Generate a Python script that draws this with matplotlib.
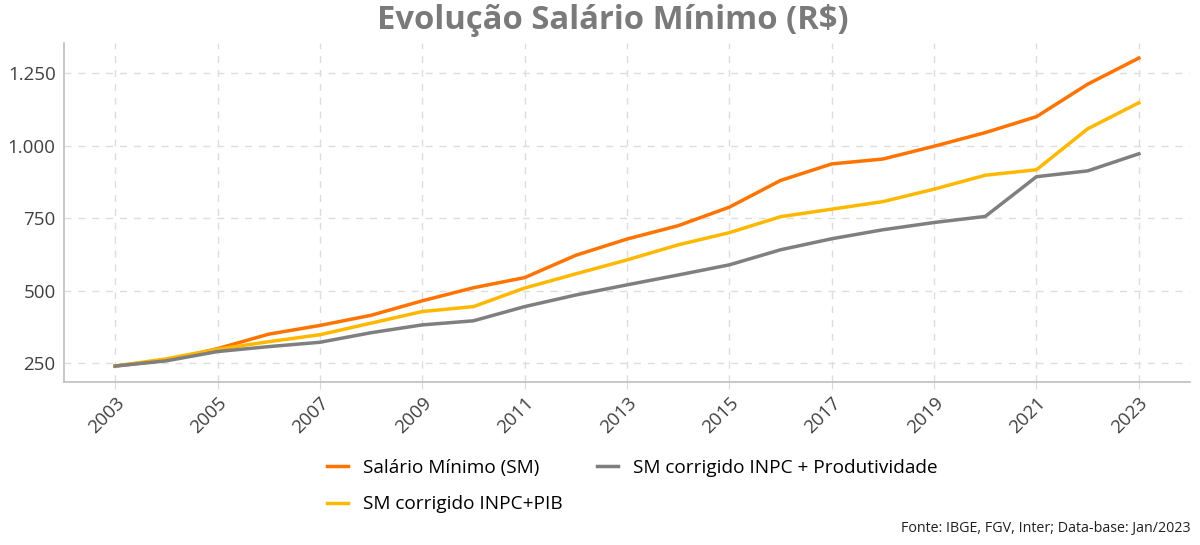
import matplotlib.pyplot as plt
from matplotlib.ticker import FuncFormatter
import numpy as np

plt.rcParams['font.family'] = ['Open Sans', 'DejaVu Sans']

anos = list(range(2003, 2024))
salario_minimo = [240, 260, 300, 350, 380, 415, 465, 510, 545, 622, 678,
                  724, 788, 880, 937, 954, 998, 1045, 1100, 1212, 1302]
sm_inpc_pib = [240, 265, 298, 324, 348, 388, 428, 445, 509, 558, 606,
               658, 700, 755, 781, 807, 850, 898, 917, 1058, 1148]
sm_inpc_prod = [240, 258, 290, 307, 322, 355, 382, 396, 445, 485, 520,
                554, 589, 641, 679, 710, 735, 756, 893, 913, 972]

fig = plt.figure(figsize=(12, 5.45), dpi=100)
ax = fig.add_axes([0.0533, 0.2996, 0.9384, 0.6215])

ax.plot(anos, salario_minimo, color='#FF7300', lw=2.5, label='Salário Mínimo (SM)')
ax.plot(anos, sm_inpc_pib, color='#FFB800', lw=2.5, label='SM corrigido INPC+PIB')
ax.plot(anos, sm_inpc_prod, color='#7F7F7F', lw=2.5, label='SM corrigido INPC + Produtividade')

ax.set_xlim(2002, 2024)
ax.set_ylim(186, 1354)
ax.set_xticks(anos[::2])
ax.set_yticks([250, 500, 750, 1000, 1250])
ax.yaxis.set_major_formatter(FuncFormatter(lambda v, p: f'{int(v):,}'.replace(',', '.')))

ax.grid(True, ls=(0, (5, 5)), color='#DDDDDD', lw=1)
ax.set_axisbelow(True)
for s in ['top', 'right']:
    ax.spines[s].set_visible(False)
for s in ['left', 'bottom']:
    ax.spines[s].set_color('#BFBFBF')
    ax.spines[s].set_linewidth(1.2)
ax.tick_params(axis='x', colors='#D9D9D9', length=5, labelcolor='#404040', labelsize=13.5)
ax.tick_params(axis='y', length=0, labelcolor='#404040', labelsize=13.5, pad=6)
plt.setp(ax.get_xticklabels(), rotation=45, ha='right', rotation_mode='anchor')

fig.text(0.511, 0.963, 'Evolução Salário Mínimo (R$)', ha='center', va='center',
         fontsize=23.6, fontweight='bold', color='#7A7A7A')

fig.legend(loc='center', bbox_to_anchor=(0.527, 0.108), ncol=2, frameon=False,
           fontsize=13.7, handlelength=1.1, columnspacing=1.8, labelspacing=0.95)

fig.text(0.992, 0.03, 'Fonte: IBGE, FGV, Inter; Data-base: Jan/2023', ha='right',
         va='center', fontsize=10.3, color='#202020')

fig.savefig('out.png', dpi=100)
